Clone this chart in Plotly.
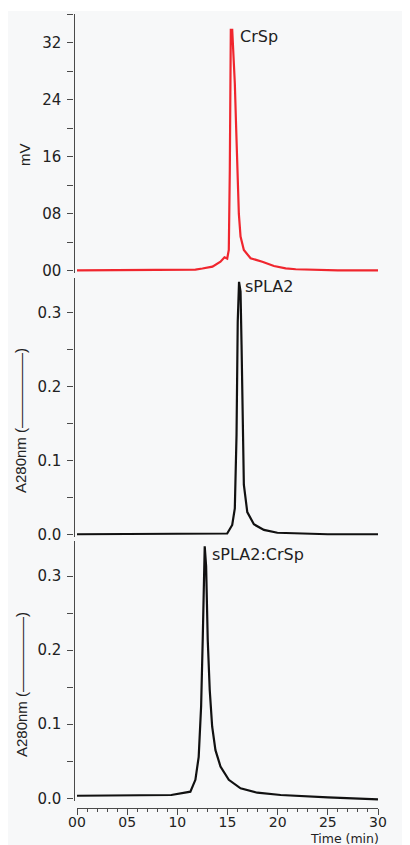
import plotly.graph_objects as go

# ---- data ----
crsp_t = [0, 5, 10, 11.5, 11.8, 12.5, 13.5, 14.3, 14.7, 14.97, 15.13, 15.23, 15.33, 15.47,
          15.57, 15.73, 15.87, 16.0, 16.13, 16.3, 16.63, 17.3, 18.47, 19.63, 20.8, 21.8,
          24, 25.8, 26, 30]
crsp_mv = [0.05, 0.05, 0.05, 0.1, 0.15, 0.3, 0.56, 1.26, 1.88, 1.7, 2.9, 14.1, 33.8, 33.8,
           31, 26.3, 19.7, 13.2, 8.0, 4.8, 2.9, 1.74, 1.26, 0.66, 0.33, 0.2,
           0.12, 0.1, 0.05, 0.05]

spla2_t = [0, 10, 13.3, 14.97, 15.47, 15.73, 15.9, 16.02, 16.15, 16.3, 16.4, 16.53, 16.63,
           16.97, 17.63, 18.63, 19.97, 25, 30]
spla2_a = [0.001, 0.001, 0.001, 0.002, 0.0135, 0.036, 0.135, 0.288, 0.342, 0.329, 0.257,
           0.135, 0.068, 0.031, 0.0144, 0.0068, 0.003, 0.001, 0.001]

mix_t = [0, 9.2, 9.4, 11.3, 11.8, 12.13, 12.37, 12.53, 12.63, 12.73, 12.87, 13.03, 13.23,
         13.47, 13.8, 14.3, 15.13, 16.3, 17.97, 20.3, 25, 30]
mix_a = [0.0035, 0.0035, 0.0045, 0.009, 0.025, 0.056, 0.124, 0.214, 0.304, 0.34, 0.313,
         0.214, 0.146, 0.097, 0.065, 0.043, 0.025, 0.0135, 0.0076, 0.0045, 0.0013, -0.0015]

labels = ["CrSp", "sPLA2", "sPLA2:CrSp"]
x_title = "Time (min)"
y_titles = ["mV", "A280nm (—————)", "A280nm (—————)"]

# ---- layout geometry (page pixels; page body has an 8px margin) ----
OX, OY = 8, 8
W, H = 402, 837
FONT = "DejaVu Sans"
TFONT = "Liberation Sans, Arial, sans-serif"
TXT = "#222222"
AX = "#4a4a4a"
BG = "#f7f8f9"

def px_x(p):
    return (p - OX) / W

def px_y(p):
    return (H - (p - OY)) / H

fig = go.Figure()
fig.add_trace(go.Scatter(x=crsp_t, y=crsp_mv, mode="lines",
                         line=dict(color="#f0262e", width=2.2), xaxis="x", yaxis="y",
                         showlegend=False))
fig.add_trace(go.Scatter(x=spla2_t, y=spla2_a, mode="lines",
                         line=dict(color="#111111", width=2.2), xaxis="x2", yaxis="y2",
                         showlegend=False))
fig.add_trace(go.Scatter(x=mix_t, y=mix_a, mode="lines",
                         line=dict(color="#111111", width=2.2), xaxis="x3", yaxis="y3",
                         showlegend=False))

xdom = [px_x(77), px_x(378)]
ypos = px_x(73.5)

yax_common = dict(anchor="free", position=ypos, showline=True, linecolor=AX, linewidth=1.3,
                  ticks="outside", ticklen=6, tickcolor=AX, tickwidth=1.3,
                  showgrid=False, zeroline=False, automargin=False,
                  tickfont=dict(family=FONT, size=15, color=TXT), ticklabelstandoff=3)

hidden_x = dict(domain=xdom, range=[0, 30], visible=False, showgrid=False, zeroline=False,
                automargin=False)

fig.update_layout(
    width=W, height=H,
    margin=dict(l=0, r=0, t=0, b=0, autoexpand=False),
    paper_bgcolor=BG,
    plot_bgcolor="rgba(0,0,0,0)",
    xaxis=dict(hidden_x, anchor="y"),
    xaxis2=dict(hidden_x, anchor="y2"),
    xaxis3=dict(domain=xdom, range=[0, 30], anchor="free", position=px_y(807.5),
                showline=True, linecolor=AX, linewidth=1.3, automargin=False,
                ticks="outside", ticklen=6, tickcolor=AX, tickwidth=1.3,
                tick0=0, dtick=5, tickformat="02d", ticklabelstandoff=-4,
                minor=dict(dtick=1, ticks="outside", ticklen=3, tickcolor=AX, tickwidth=1,
                           showgrid=False),
                showgrid=False, zeroline=False,
                tickfont=dict(family=FONT, size=14, color=TXT)),
    yaxis=dict(yax_common, domain=[px_y(272.8), px_y(14.2)], range=[-0.3, 36],
               tick0=0, dtick=8, tickformat="02d",
               minor=dict(dtick=4, ticks="outside", ticklen=6, tickcolor=AX, tickwidth=1.3,
                          showgrid=False)),
    yaxis2=dict(yax_common, domain=[px_y(537.2), px_y(278.2)], range=[-0.003, 0.347],
                tick0=0, dtick=0.1, tickformat=".1f",
                minor=dict(dtick=0.05, ticks="outside", ticklen=6, tickcolor=AX,
                           tickwidth=1.3, showgrid=False)),
    yaxis3=dict(yax_common, domain=[px_y(801.3), px_y(541.2)], range=[-0.004, 0.347],
                tick0=0, dtick=0.1, tickformat=".1f",
                minor=dict(dtick=0.05, ticks="outside", ticklen=6, tickcolor=AX,
                           tickwidth=1.3, showgrid=False)),
    shapes=[dict(type="rect", xref="paper", yref="paper", x0=0, x1=1,
                 y0=px_y(11), y1=1, fillcolor="white", line=dict(width=0),
                 layer="below")],
)

ann = []
# peak labels
for text, x, y in [(labels[0], 238, 36), (labels[1], 243, 286), (labels[2], 210, 554)]:
    ann.append(dict(text=text, x=px_x(x), y=px_y(y), xref="paper", yref="paper",
                    xanchor="left", yanchor="middle", showarrow=False,
                    font=dict(family=FONT, size=16, color=TXT)))
# y titles
for text, x, y in [(y_titles[0], 24, 155), (y_titles[1], 21, 421), (y_titles[2], 21, 685)]:
    ann.append(dict(text=text, x=px_x(x), y=px_y(y), xref="paper", yref="paper",
                    xanchor="center", yanchor="middle", textangle=-90, showarrow=False,
                    font=dict(family=TFONT, size=15, color=TXT)))
# x title
ann.append(dict(text=x_title, x=px_x(381), y=px_y(838.5), xref="paper", yref="paper",
                xanchor="right", yanchor="middle", showarrow=False,
                font=dict(family=FONT, size=12.5, color=TXT)))
fig.update_layout(annotations=ann)

fig.write_html("out.html")
